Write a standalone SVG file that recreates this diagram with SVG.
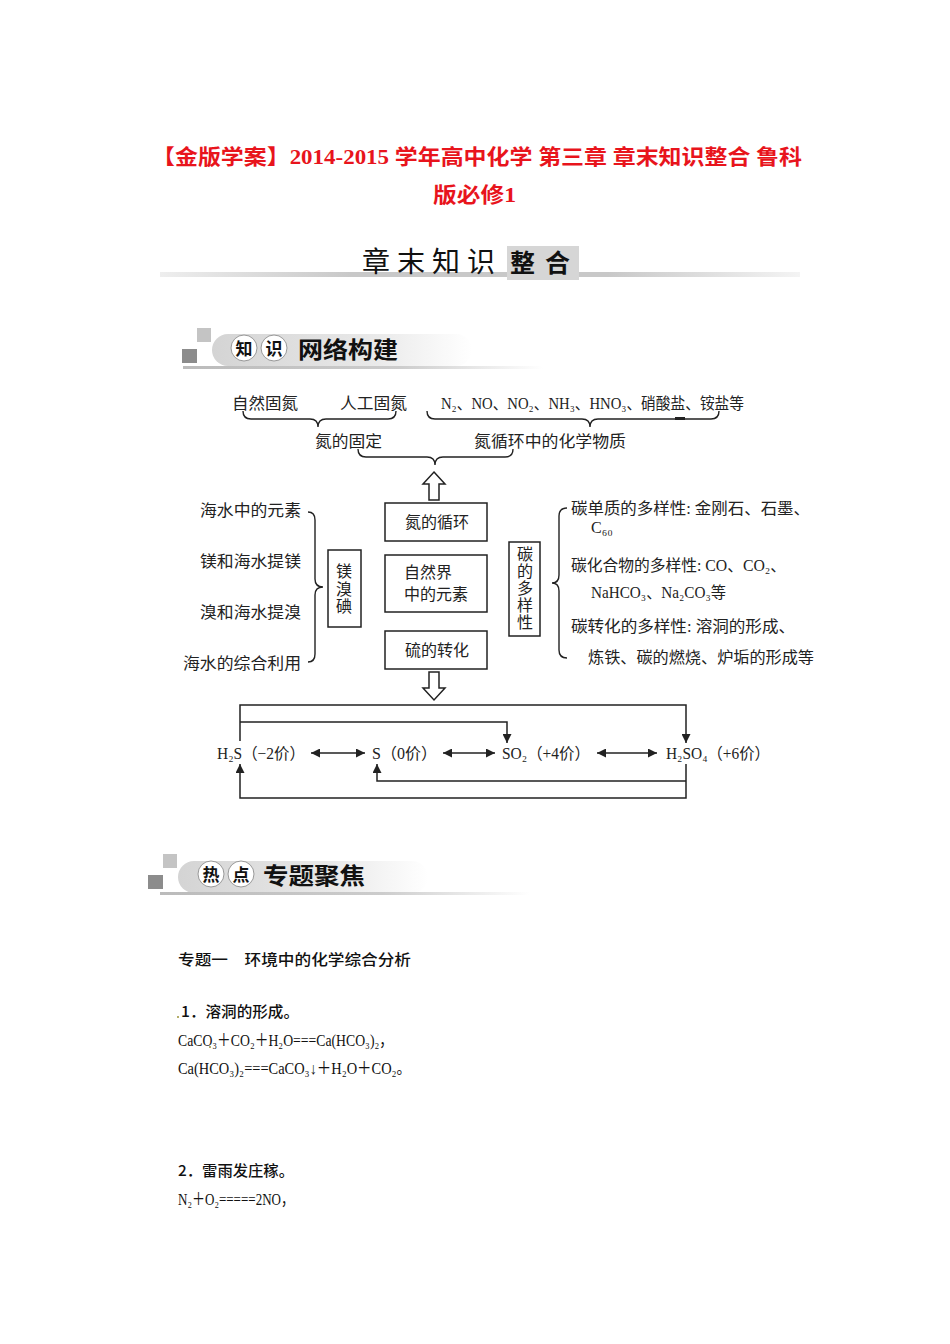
<svg xmlns="http://www.w3.org/2000/svg" width="950" height="1344" viewBox="0 0 950 1344">
<defs>
<style>
.t{font-family:"Liberation Serif","DejaVu Serif","Noto Sans CJK SC",serif;font-size:16px;fill:#222}
.c{font-family:"Noto Sans CJK SC",sans-serif;font-size:16px;fill:#222}
.v{font-family:"Noto Sans CJK SC",sans-serif;font-size:16px;fill:#222;writing-mode:vertical-rl}
.red{font-family:"Liberation Serif","Noto Sans CJK SC",serif;font-size:21px;font-weight:bold;fill:#e8141c}
.box{fill:#fff;stroke:#222;stroke-width:1.5}
.ln{fill:none;stroke:#222;stroke-width:1.5}
.br{fill:none;stroke:#222;stroke-width:1.4}
.hol{fill:#fff;stroke:#222;stroke-width:1.5}
.body{font-family:"Noto Sans CJK SC",sans-serif;font-size:15px;font-weight:500;fill:#111}
.eq{font-family:"Liberation Serif","DejaVu Serif","Noto Sans CJK SC",serif;font-size:16.5px;fill:#111}
.hd{font-family:"Noto Sans CJK SC",sans-serif;font-weight:bold;fill:#111}
</style>
<marker id="ah" viewBox="0 0 10 10" refX="10" refY="5" markerWidth="9" markerHeight="9" markerUnits="userSpaceOnUse" orient="auto-start-reverse">
<path d="M0,0 L10,5 L0,10 z" fill="#222"/>
</marker>
<linearGradient id="gl" x1="0" y1="0" x2="1" y2="0">
<stop offset="0" stop-color="#eee"/>
<stop offset="0.3" stop-color="#c8c8c8"/>
<stop offset="0.7" stop-color="#c8c8c8"/>
<stop offset="1" stop-color="#f4f4f4"/>
</linearGradient>
<linearGradient id="gu" x1="0" y1="0" x2="1" y2="0">
<stop offset="0" stop-color="#bbb"/>
<stop offset="0.6" stop-color="#ccc"/>
<stop offset="1" stop-color="#fff"/>
</linearGradient>
<linearGradient id="gp" x1="0" y1="0" x2="1" y2="0">
<stop offset="0" stop-color="#d4d4d4"/>
<stop offset="0.6" stop-color="#e8e8e8"/>
<stop offset="1" stop-color="#fff"/>
</linearGradient>
</defs>
<rect width="950" height="1344" fill="#fff"/>

<g id="title">
<text class="red" x="152" y="164" textLength="650" lengthAdjust="spacingAndGlyphs">【金版学案】2014-2015 学年高中化学 第三章 章末知识整合 鲁科</text>
<text class="red" x="433" y="202" textLength="83" lengthAdjust="spacingAndGlyphs">版必修1</text>
</g>

<g id="chapter-header">
<rect x="160" y="272" width="640" height="5" fill="url(#gl)"/>
<rect x="507" y="246" width="72" height="34" fill="#d6d6d6"/>
<text x="362" y="272" font-family="Noto Sans CJK SC,sans-serif" font-size="28" fill="#111" letter-spacing="7">章末知识</text>
<text x="510" y="272" font-family="Noto Sans CJK SC,sans-serif" font-size="25" font-weight="bold" fill="#111" letter-spacing="10">整合</text>
</g>

<g id="section1-header">
<rect x="197" y="328" width="14" height="14" fill="#c4c4c4"/>
<rect x="182" y="349" width="15" height="14" fill="#8c8c8c"/>
<rect x="212" y="334" width="260" height="32" rx="16" fill="url(#gp)"/>
<rect x="183" y="366" width="360" height="3" fill="url(#gu)"/>
<circle cx="244" cy="348" r="13" fill="#fff" stroke="#999" stroke-width="1"/>
<circle cx="274" cy="348" r="13" fill="#fff" stroke="#999" stroke-width="1"/>
<text class="hd" x="244" y="355" font-size="17" text-anchor="middle">知</text>
<text class="hd" x="274" y="355" font-size="17" text-anchor="middle">识</text>
<text class="hd" x="298" y="358" font-size="23" textLength="100" lengthAdjust="spacingAndGlyphs">网络构建</text>
</g>

<g id="connectors">
<path class="br" d="M243 411 Q243 419 251 419 L310 419 Q318 419 318 427 Q318 419 326 419 L388 419 Q396 419 396 411"/>
<path class="br" d="M427 411 Q427 419 435 419 L582 419 Q590 419 590 427 Q590 419 598 419 L711 419 Q719 419 719 411"/>
<rect x="675" y="417" width="10" height="3" fill="#222"/>
<path class="br" d="M358 449 Q358 457 366 457 L427 457 Q435 457 435 465 Q435 457 443 457 L505 457 Q513 457 513 449"/>
<path class="br" d="M308 512 Q315 512 315 520 L315 579 Q315 587 323 587 Q315 587 315 595 L315 654 Q315 662 308 662"/>
<path class="br" d="M567 508 Q559 508 559 516 L559 575 Q559 583 552 583 Q559 583 559 591 L559 650 Q559 658 567 658"/>
<path class="hol" d="M434 472 L445 484 L439 484 L439 500 L429 500 L429 484 L423 484 Z"/>
<path class="hol" d="M429 672 L439 672 L439 688 L445 688 L434 700 L423 688 L429 688 Z"/>
<path class="ln" d="M240 741 V705 H686 V743" marker-end="url(#ah)"/>
<path class="ln" d="M240 722 H507 V743" marker-end="url(#ah)"/>
<path class="ln" d="M686 764 V798 H240 V764" marker-end="url(#ah)"/>
<path class="ln" d="M686 781 H377 V764" marker-end="url(#ah)"/>
<line class="ln" x1="311" y1="753" x2="365" y2="753" marker-start="url(#ah)" marker-end="url(#ah)"/>
<line class="ln" x1="443" y1="753" x2="495" y2="753" marker-start="url(#ah)" marker-end="url(#ah)"/>
<line class="ln" x1="597" y1="753" x2="657" y2="753" marker-start="url(#ah)" marker-end="url(#ah)"/>
</g>

<g id="n-fixation">
<text class="c" x="232" y="409" textLength="66" lengthAdjust="spacingAndGlyphs">自然固氮</text>
<text class="c" x="340" y="409" textLength="67" lengthAdjust="spacingAndGlyphs">人工固氮</text>
<text class="c" x="315" y="447" textLength="67" lengthAdjust="spacingAndGlyphs">氮的固定</text>
</g>
<g id="n-substances">
<text class="t" x="441" y="409" textLength="303" lengthAdjust="spacingAndGlyphs">N₂、NO、NO₂、NH₃、HNO₃、硝酸盐、铵盐等</text>
<text class="c" x="474" y="447" textLength="152" lengthAdjust="spacingAndGlyphs">氮循环中的化学物质</text>
</g>

<g id="node-n-cycle">
<rect class="box" x="385" y="503" width="102" height="38"/>
<text class="c" x="437" y="528" text-anchor="middle">氮的循环</text>
</g>
<g id="node-elements">
<rect class="box" x="385" y="555" width="102" height="57"/>
<text class="c" x="404" y="578" font-size="15.5">自然界</text>
<text class="c" x="404" y="600" font-size="15.5" textLength="64" lengthAdjust="spacingAndGlyphs">中的元素</text>
</g>
<g id="node-sulfur">
<rect class="box" x="385" y="631" width="102" height="38"/>
<text class="c" x="437" y="656" text-anchor="middle">硫的转化</text>
</g>

<g id="seawater">
<text class="c" x="200" y="516" textLength="101" lengthAdjust="spacingAndGlyphs">海水中的元素</text>
<text class="c" x="200" y="567" textLength="101" lengthAdjust="spacingAndGlyphs">镁和海水提镁</text>
<text class="c" x="200" y="618" textLength="101" lengthAdjust="spacingAndGlyphs">溴和海水提溴</text>
<text class="c" x="183" y="669" textLength="118" lengthAdjust="spacingAndGlyphs">海水的综合利用</text>
</g>
<g id="node-mg-br-i">
<rect class="box" x="328" y="550" width="33" height="77"/>
<text class="v" x="344" y="563" letter-spacing="1.5">镁溴碘</text>
</g>

<g id="node-carbon">
<rect class="box" x="509" y="542" width="31" height="94"/>
<text class="v" x="525" y="546" letter-spacing="1">碳的多样性</text>
</g>
<g id="carbon-details">
<text class="t" x="571" y="514" textLength="239" lengthAdjust="spacingAndGlyphs">碳单质的多样性: 金刚石、石墨、</text>
<text class="t" x="591" y="533">C₆₀</text>
<text class="t" x="571" y="571" textLength="215" lengthAdjust="spacingAndGlyphs">碳化合物的多样性: CO、CO₂、</text>
<text class="t" x="591" y="598" textLength="135" lengthAdjust="spacingAndGlyphs">NaHCO₃、Na₂CO₃等</text>
<text class="t" x="571" y="632" textLength="224" lengthAdjust="spacingAndGlyphs">碳转化的多样性: 溶洞的形成、</text>
<text class="t" x="588" y="663" textLength="226" lengthAdjust="spacingAndGlyphs">炼铁、碳的燃烧、炉垢的形成等</text>
</g>

<g id="node-h2s">
<text class="t" x="217" y="759" textLength="88" lengthAdjust="spacingAndGlyphs">H₂S（−2价）</text>
</g>
<g id="node-s">
<text class="t" x="372" y="759" textLength="65" lengthAdjust="spacingAndGlyphs">S（0价）</text>
</g>
<g id="node-so2">
<text class="t" x="502" y="759" textLength="88" lengthAdjust="spacingAndGlyphs">SO₂（+4价）</text>
</g>
<g id="node-h2so4">
<text class="t" x="666" y="759" textLength="104" lengthAdjust="spacingAndGlyphs">H₂SO₄（+6价）</text>
</g>

<g id="section2-header">
<rect x="163" y="854" width="14" height="14" fill="#c4c4c4"/>
<rect x="148" y="875" width="15" height="14" fill="#8c8c8c"/>
<rect x="178" y="861" width="250" height="32" rx="16" fill="url(#gp)"/>
<rect x="160" y="892" width="370" height="3" fill="url(#gu)"/>
<circle cx="211" cy="874" r="13" fill="#fff" stroke="#999" stroke-width="1"/>
<circle cx="241" cy="874" r="13" fill="#fff" stroke="#999" stroke-width="1"/>
<text class="hd" x="211" y="881" font-size="17" text-anchor="middle">热</text>
<text class="hd" x="241" y="881" font-size="17" text-anchor="middle">点</text>
<text class="hd" x="263" y="884" font-size="23" textLength="102" lengthAdjust="spacingAndGlyphs">专题聚焦</text>
</g>

<g id="body">
<text class="body" x="178" y="965" textLength="233" lengthAdjust="spacingAndGlyphs">专题一　环境中的化学综合分析</text>
<rect x="177" y="1016" width="2" height="2" fill="#b5ae6a"/>
<text class="body" x="181" y="1017" textLength="118" lengthAdjust="spacingAndGlyphs">1．溶洞的形成。</text>
<text class="eq" x="178" y="1046" textLength="215" lengthAdjust="spacingAndGlyphs">CaCO₃＋CO₂＋H₂O===Ca(HCO₃)₂，</text>
<rect x="209" y="1046" width="2" height="2" fill="#b5ae6a"/>
<text class="eq" x="178" y="1074" textLength="233" lengthAdjust="spacingAndGlyphs">Ca(HCO₃)₂===CaCO₃↓＋H₂O＋CO₂。</text>
<text class="body" x="178" y="1176" textLength="116" lengthAdjust="spacingAndGlyphs">2．雷雨发庄稼。</text>
<text class="eq" x="178" y="1205" textLength="116" lengthAdjust="spacingAndGlyphs">N₂＋O₂=====2NO，</text>
</g>
</svg>
